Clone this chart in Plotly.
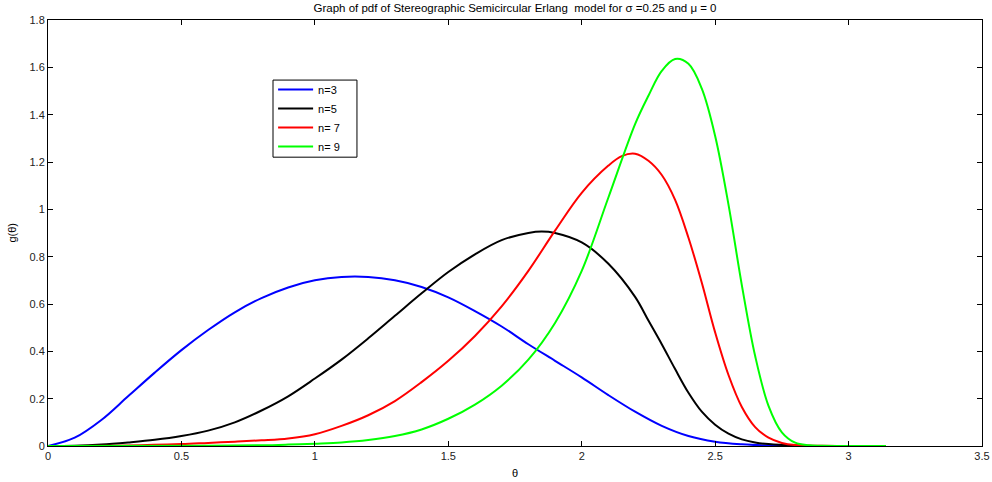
import plotly.graph_objects as go

# n = 3 (blue)
x_n3 = [0, 0.1, 0.2, 0.3, 0.4, 0.5, 0.6, 0.7, 0.8, 0.9, 1.0, 1.1, 1.2, 1.3, 1.4, 1.5, 1.6, 1.7,
        1.8, 1.9, 2.0, 2.1, 2.2, 2.3, 2.4, 2.5, 2.6, 2.7, 2.8, 2.9, 3.0, 3.14]
y_n3 = [0, 0.035, 0.11, 0.21, 0.31, 0.405, 0.49, 0.565, 0.625, 0.67, 0.70, 0.714, 0.714, 0.70, 0.672,
        0.628, 0.57, 0.505, 0.43, 0.36, 0.29, 0.215, 0.145, 0.085, 0.042, 0.018, 0.007, 0.002, 0.001,
        0, 0, 0]

# n = 5 (black)
x_n5 = [0, 0.1, 0.2, 0.3, 0.4, 0.5, 0.6, 0.7, 0.8, 0.9, 1.0, 1.1, 1.2, 1.3, 1.4, 1.5, 1.6, 1.7,
        1.8, 1.85, 1.9, 2.0, 2.1, 2.2, 2.25, 2.3, 2.35, 2.4, 2.45, 2.5, 2.55, 2.6, 2.65, 2.7, 2.8,
        2.9, 3.14]
y_n5 = [0, 0.001, 0.006, 0.015, 0.026, 0.042, 0.065, 0.10, 0.15, 0.21, 0.285, 0.365, 0.455, 0.55,
        0.645, 0.735, 0.81, 0.87, 0.9, 0.906, 0.9, 0.86, 0.77, 0.63, 0.53, 0.43, 0.325, 0.225, 0.145,
        0.09, 0.052, 0.028, 0.015, 0.008, 0.002, 0, 0]

# n = 7 (red)
x_n7 = [0, 0.3, 0.5, 0.6, 0.7, 0.8, 0.9, 1.0, 1.1, 1.2, 1.3, 1.4, 1.5, 1.6, 1.7, 1.8, 1.9, 2.0,
        2.1, 2.15, 2.2, 2.25, 2.3, 2.35, 2.4, 2.45, 2.5, 2.55, 2.6, 2.65, 2.7, 2.75, 2.8, 2.9, 3.14]
y_n7 = [0, 0.002, 0.008, 0.013, 0.018, 0.024, 0.032, 0.05, 0.085, 0.13, 0.19, 0.27, 0.36, 0.465,
        0.59, 0.74, 0.91, 1.07, 1.185, 1.225, 1.235, 1.205, 1.145, 1.04, 0.88, 0.69, 0.48, 0.30,
        0.165, 0.08, 0.035, 0.013, 0.004, 0.001, 0]

# n = 9 (green)
x_n9 = [0, 0.6, 0.8, 0.9, 1.0, 1.1, 1.2, 1.3, 1.4, 1.5, 1.6, 1.7, 1.8, 1.9, 2.0, 2.1, 2.2, 2.25,
        2.3, 2.35, 2.4, 2.45, 2.5, 2.55, 2.6, 2.65, 2.7, 2.75, 2.8, 2.85, 2.9, 3.14]
y_n9 = [0, 0.001, 0.003, 0.006, 0.01, 0.015, 0.025, 0.042, 0.07, 0.115, 0.175, 0.255, 0.365, 0.52,
        0.74, 1.05, 1.36, 1.48, 1.585, 1.635, 1.615, 1.51, 1.31, 1.02, 0.68, 0.38, 0.17, 0.058,
        0.014, 0.003, 0.001, 0]

series_names = ["n=3", "n=5", "n= 7", "n= 9"]
series_colors = ["#0000FF", "#000000", "#FF0000", "#00FF00"]
series_x = [x_n3, x_n5, x_n7, x_n9]
series_y = [y_n3, y_n5, y_n7, y_n9]

x_ticks = [0, 0.5, 1, 1.5, 2, 2.5, 3, 3.5]
y_ticks = [0, 0.2, 0.4, 0.6, 0.8, 1, 1.2, 1.4, 1.6, 1.8]

fig = go.Figure()
for name, col, xs, ys in zip(series_names, series_colors, series_x, series_y):
    fig.add_trace(go.Scatter(x=xs, y=ys, mode="lines", name=name,
                             line=dict(color=col, width=2, shape="spline", smoothing=1.0)))

font_family = "Liberation Sans, Arial, sans-serif"
axis_common = dict(showgrid=False, zeroline=False, showline=True, linecolor="#000000", linewidth=1,
                   mirror="ticks", ticks="inside", ticklen=5, tickcolor="#000000", automargin=False,
                   tickfont=dict(family=font_family, size=11, color="#222222"))

fig.update_layout(
    width=992, height=482,
    margin=dict(l=48, r=10, t=20, b=36, autoexpand=False),
    paper_bgcolor="white", plot_bgcolor="white",
    font=dict(family=font_family, size=11, color="#000000"),
    title=dict(text="Graph of pdf of Stereographic Semicircular Erlang&nbsp; model for σ =0.25 and μ = 0",
               xref="paper", x=0.5, xanchor="center", y=0.984, yanchor="middle",
               font=dict(family=font_family, size=11.5, color="#000000")),
    xaxis=dict(range=[0, 3.5], tickvals=x_ticks, ticktext=[f"{v:g}" for v in x_ticks], **axis_common),
    yaxis=dict(range=[0, 1.8], tickvals=y_ticks, ticktext=[f"{v:g}" for v in y_ticks], **axis_common),
    showlegend=True,
    legend=dict(x=0.241, y=0.871, xanchor="left", yanchor="top",
                bgcolor="rgba(0,0,0,0)", borderwidth=0,
                font=dict(family=font_family, size=11, color="#000000"),
                itemwidth=35, tracegroupgap=0),
)

# legend frame
fig.add_shape(type="rect", xref="paper", yref="paper", x0=0.2409, x1=0.3308, y0=0.678, y1=0.859,
              line=dict(color="#000000", width=1), fillcolor="rgba(0,0,0,0)", layer="above")

fig.add_annotation(text="θ", xref="paper", yref="paper", x=0.5, y=-0.063,
                   showarrow=False, xanchor="center", yanchor="middle",
                   font=dict(family=font_family, size=11, color="#000000"))
fig.add_annotation(text="g(θ)", xref="paper", yref="paper", x=-0.039, y=0.5,
                   showarrow=False, xanchor="center", yanchor="middle", textangle=-90,
                   font=dict(family=font_family, size=11, color="#000000"))

fig.write_html("out.html", config={"displayModeBar": False},
               post_script="document.body.style.margin='0';document.body.style.overflow='hidden';")
